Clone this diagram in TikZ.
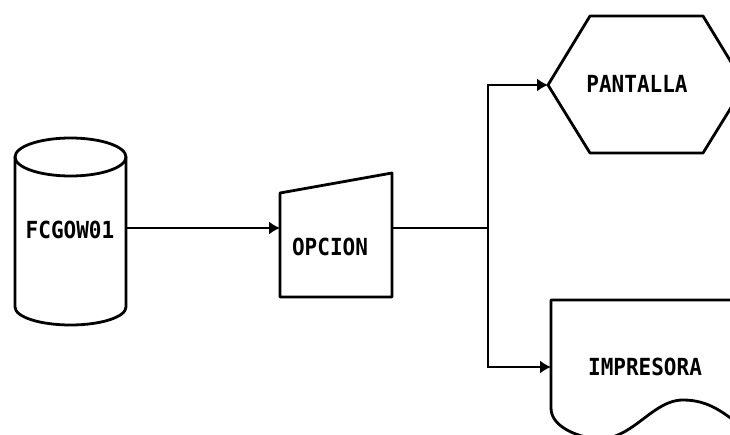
\documentclass[tikz,border=0pt]{standalone}
\usepackage{fontspec}
\setmonofont{DejaVu Sans Mono}
\usetikzlibrary{arrows.meta}
\begin{document}
\begin{tikzpicture}[x=1pt,y=1pt,
  shapeline/.style={line width=2.8pt, line join=round, black},
  conn/.style={line width=1.6pt, black},
  arr/.style={conn, -{Latex[length=11pt,width=13pt]}},
  lbl/.style={font=\ttfamily\bfseries\fontsize{21}{22}\selectfont, inner sep=0pt, yscale=1.12}]
\useasboundingbox (0,0) rectangle (730,434);
\clip (0,0) rectangle (730,434);
\fill[white] (0,0) rectangle (730,434);
% cylinder FCGOW01
\draw[shapeline] (15,277) -- (15,127) arc[start angle=180, end angle=360, x radius=55.5, y radius=18] -- (126,277);
\draw[shapeline] (70.5,277) ellipse[x radius=55.5, y radius=19];
\node[lbl, transform shape] (db) at (70,204) {FCGOW01};
\coordinate (dbR) at (126,206);
% OPCION manual input
\draw[shapeline] (280,137) -- (280,241) -- (392,261) -- (392,137) -- cycle;
\node[lbl, transform shape] (opc) at (330,187) {OPCION};
\coordinate (opcL) at (280,206);
\coordinate (opcR) at (392,206);
% PANTALLA display
\draw[shapeline] (548,349) -- (590,418) -- (703,418) -- (745,349) -- (703,281) -- (590,281) -- cycle;
\node[lbl, transform shape] (pan) at (637,350) {PANTALLA};
\coordinate (panL) at (548,349);
% IMPRESORA document
\draw[shapeline] (760,134) -- (551,134) -- (551,26) .. controls (551,10) and (570,0) .. (590,-4)
   .. controls (630,-12) and (650,34) .. (683,34) .. controls (710,34) and (725,20) .. (745,5);
\node[lbl, transform shape] (imp) at (645,67) {IMPRESORA};
\coordinate (impL) at (551,67);
% connectors
\coordinate (jn) at (488,206);
\draw[arr] (dbR) -- (opcL);
\draw[conn] (opcR) -- (jn);
\draw[arr] (jn) |- (panL);
\draw[arr] (jn) |- (impL);
\end{tikzpicture}
\end{document}
